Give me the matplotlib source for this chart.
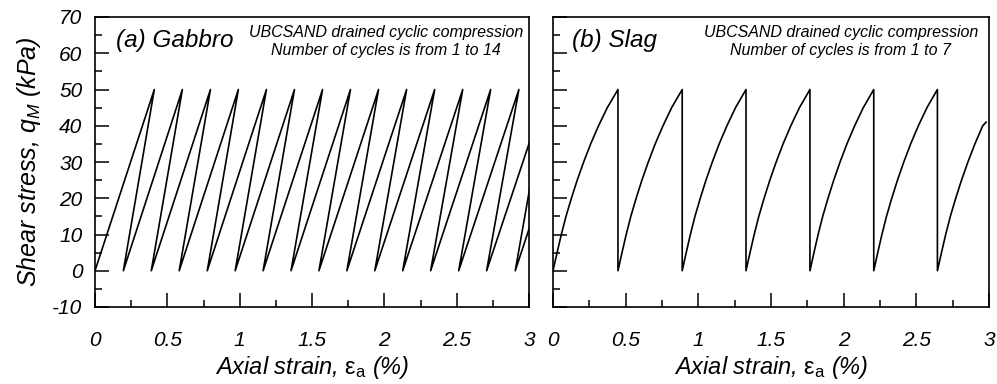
import numpy as np
import matplotlib.pyplot as plt
from matplotlib.ticker import MultipleLocator

# Fonts: Arial-like italic everywhere
plt.rcParams['font.family'] = ['Liberation Sans', 'DejaVu Sans']
plt.rcParams['font.style'] = 'italic'
plt.rcParams['mathtext.fontset'] = 'custom'
plt.rcParams['mathtext.rm'] = 'Liberation Sans:style=normal'
plt.rcParams['mathtext.it'] = 'Liberation Sans:style=italic'
plt.rcParams['axes.unicode_minus'] = False

# (a) Gabbro: straight load / unload lines between peaks and valleys
gabbro_peak_strain = [0.41, 0.604, 0.798, 0.991, 1.185, 1.379, 1.573, 1.766,
                      1.96, 2.154, 2.348, 2.542, 2.735, 2.93, 3.125, 3.318]
gabbro_valley_strain = [0.196, 0.389, 0.582, 0.776, 0.969, 1.162, 1.355, 1.548,
                        1.741, 1.934, 2.127, 2.32, 2.514, 2.707, 2.905]
peak_stress = 50
valley_stress = 0

# (b) Slag: curved loading, vertical unloading
slag_peak_strain = [0.447, 0.889, 1.328, 1.768, 2.207, 2.645]
# shape of one loading branch
slag_curve_offset = [0, 0.028, 0.057, 0.089, 0.126, 0.166, 0.21, 0.258, 0.312, 0.372, 0.445]
slag_curve_stress = [0, 5, 10, 15, 20, 25, 30, 35, 40, 45, 50]
slag_end = (2.98, 41)

# build gabbro path
gx = [0]
gy = [0]
for i in range(len(gabbro_valley_strain)):
    gx += [gabbro_peak_strain[i], gabbro_valley_strain[i]]
    gy += [peak_stress, valley_stress]
gx.append(gabbro_peak_strain[-1])
gy.append(peak_stress)

# build slag path
off = np.array(slag_curve_offset)
sx, sy = [], []
starts = [0] + slag_peak_strain[:-1]
for s, p in zip(starts, slag_peak_strain):
    sx += list(s + off * (p - s) / off[-1])
    sy += slag_curve_stress
    sx.append(p)
    sy.append(valley_stress)
last = slag_peak_strain[-1]
keep = last + off < slag_end[0] - 0.02
sx += list(last + off[keep])
sy += list(np.array(slag_curve_stress)[keep])
sx.append(slag_end[0])
sy.append(slag_end[1])

fig = plt.figure(figsize=(9.97, 3.84), dpi=100)
ax1 = fig.add_axes([95/997, 77/384, 434/997, 290/384])
ax2 = fig.add_axes([553/997, 77/384, 436/997, 290/384])

ax1.plot(gx, gy, color='black', lw=1.2)
ax2.plot(sx, sy, color='black', lw=1.2)

for ax in (ax1, ax2):
    ax.set_xlim(0, 3)
    ax.set_ylim(-10, 70)
    ax.xaxis.set_major_locator(MultipleLocator(0.5))
    ax.xaxis.set_minor_locator(MultipleLocator(0.25))
    ax.yaxis.set_major_locator(MultipleLocator(10))
    ax.yaxis.set_minor_locator(MultipleLocator(5))
    ax.tick_params(which='both', direction='in', width=1.1, top=False, right=False)
    ax.tick_params(which='major', length=10)
    ax.tick_params(which='minor', length=5)
    ax.tick_params(axis='x', labelsize=15, pad=17)
    ax.tick_params(axis='y', labelsize=15, pad=9)
    ax.xaxis.set_major_formatter(lambda v, p: f'{v:g}')
    for sp in ax.spines.values():
        sp.set_linewidth(1.2)
    ax.set_xlabel(r'Axial strain, $\mathrm{\varepsilon_a}$ (%)', fontsize=17, labelpad=3)

ax2.tick_params(axis='y', labelleft=False)
ax1.set_ylabel(r'Shear stress, $q_M$ (kPa)', fontsize=18, labelpad=7)

ax1.text(0.048, 0.92, '(a) Gabbro', transform=ax1.transAxes, fontsize=17.5, va='center')
ax2.text(0.043, 0.92, '(b) Slag', transform=ax2.transAxes, fontsize=17.5, va='center')
ax1.text(0.67, 0.917, 'UBCSAND drained cyclic compression\nNumber of cycles is from 1 to 14',
         transform=ax1.transAxes, fontsize=11.5, ha='center', va='center', linespacing=1.25)
ax2.text(0.66, 0.917, 'UBCSAND drained cyclic compression\nNumber of cycles is from 1 to 7',
         transform=ax2.transAxes, fontsize=11.5, ha='center', va='center', linespacing=1.25)

fig.savefig('out.png', dpi=100)
